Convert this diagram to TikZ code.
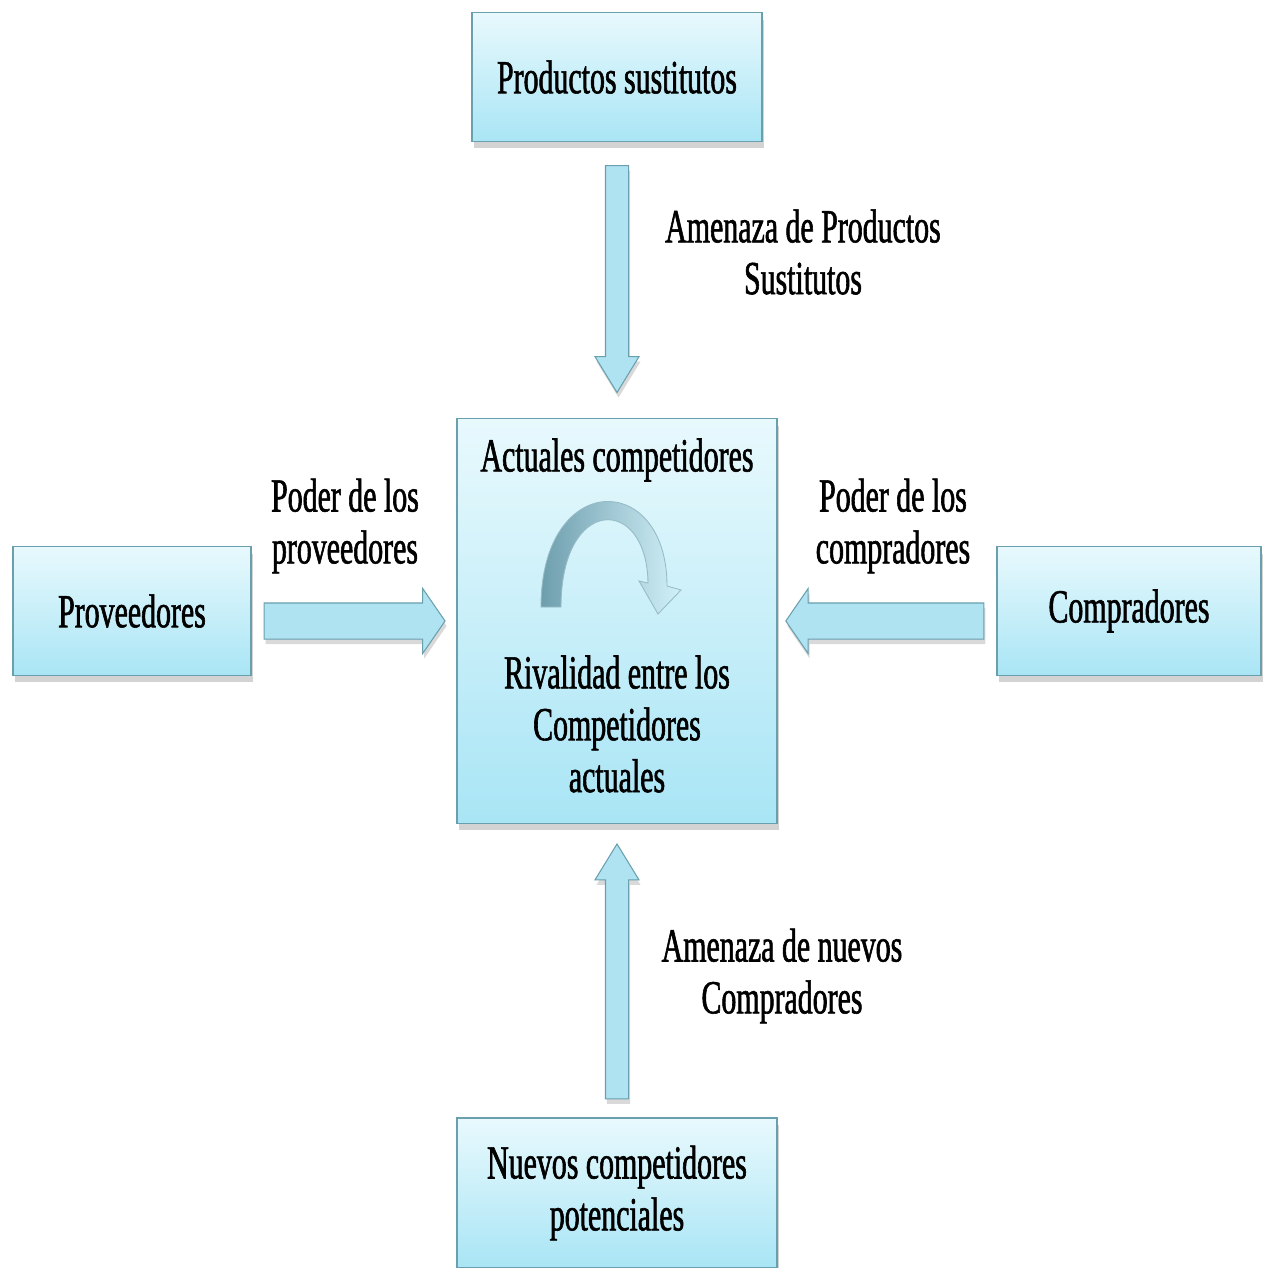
\documentclass[tikz,border=0pt]{standalone}
\usepackage{fontspec}
\newfontfamily\diagfont[FakeStretch=0.63, FakeBold=1.2]{Liberation Serif}
\usetikzlibrary{shapes.arrows,shadows}

\definecolor{boxtop}{HTML}{E8F9FD}
\definecolor{boxbot}{HTML}{A9E5F5}
\definecolor{boxline}{HTML}{6A9FAE}
\definecolor{arrlight}{HTML}{E2F7FC}
\definecolor{arrdark}{HTML}{AFE3F2}
\definecolor{curvdark}{HTML}{6E9EAD}
\definecolor{curvlight}{HTML}{D2F1F9}

\begin{document}
\begin{tikzpicture}[x=0.02cm, y=-0.02cm,
    box/.style={draw=boxline, line width=0.8pt, top color=boxtop, bottom color=boxbot,
        drop shadow={shadow xshift=0.04cm, shadow yshift=-0.14cm, opacity=0.35},
        font=\diagfont\fontsize{27}{29.5}\selectfont, align=center, inner sep=0pt},
    txt/.style={font=\diagfont\fontsize{27}{29.5}\selectfont, align=center, inner sep=0pt},
    block/.style={single arrow, draw=boxline, line width=0.6pt, top color=arrdark,
        middle color=arrlight, bottom color=arrdark, inner sep=0pt, single arrow head indent=0pt,
        sloped, allow upside down, anchor=tail,
        drop shadow={shadow xshift=0.03cm, shadow yshift=-0.1cm, opacity=0.3}},
    hblock/.style={block, inner ysep=0.35cm, minimum width=1.28cm,
        single arrow head extend=0.29cm, single arrow tip angle=111},
    vblock/.style={block, inner ysep=0.22cm, minimum width=0.86cm,
        single arrow head extend=0.21cm, single arrow tip angle=63}]

    \useasboundingbox (0,0) rectangle (1265,1268);

    % The five forces
    \node[box, minimum width=5.8cm, minimum height=2.58cm] (sust) at (617,77) {Productos sustitutos};
    \node[box, minimum width=6.4cm, minimum height=8.1cm] (rival) at (617,621) {};
    \node[box, minimum width=4.76cm, minimum height=2.58cm] (prov) at (132,611) {Proveedores};
    \node[box, minimum width=5.28cm, minimum height=2.58cm] (compr) at (1129,611) {Compradores};
    \node[box, minimum width=6.4cm, minimum height=3.0cm] (nuevos) at (617,1193) {Nuevos competidores\\potenciales};

    % Text inside the centre box
    \node[txt] (actuales) at (617,460) {Actuales competidores};
    \node[txt] (rivalidad) at (617,724) {Rivalidad entre los\\Competidores\\actuales};

    % Curved arrow of the rivalry
    \draw[draw=boxline!70, line width=0.5pt, left color=curvdark, right color=curvlight]
        (541,607) .. controls (541,470) and (667,470) .. (667,586)
        -- (681,590) -- (658,614) -- (639,581) -- (648,583)
        .. controls (647,495) and (561,495) .. (561,607) -- cycle;

    % Block arrows between the boxes
    \path (sust) -- (rival) node[pos=0.083, vblock, minimum height=4.54cm] (arrsust) {};
    \path (nuevos) -- (rival) node[pos=0.061, vblock, minimum height=5.1cm] (arrnuevos) {};
    \path (prov.east |- rival) -- (rival.west) node[pos=0.058, hblock, minimum height=3.62cm] (arrprov) {};
    \path (compr.west |- rival) -- (rival.east) node[pos=0.055, hblock, minimum height=3.96cm] (arrcompr) {};

    % Labels of the forces
    \node[txt] (lblsust) at (803,252) {Amenaza de Productos\\Sustitutos};
    \node[txt] (lblprov) at (345,526) {Poder de los\\proveedores};
    \node[txt] (lblcompr) at (893,526) {Poder de los\\compradores};
    \node[txt] (lblnuevos) at (782,976) {Amenaza de nuevos\\Compradores};
\end{tikzpicture}
\end{document}
